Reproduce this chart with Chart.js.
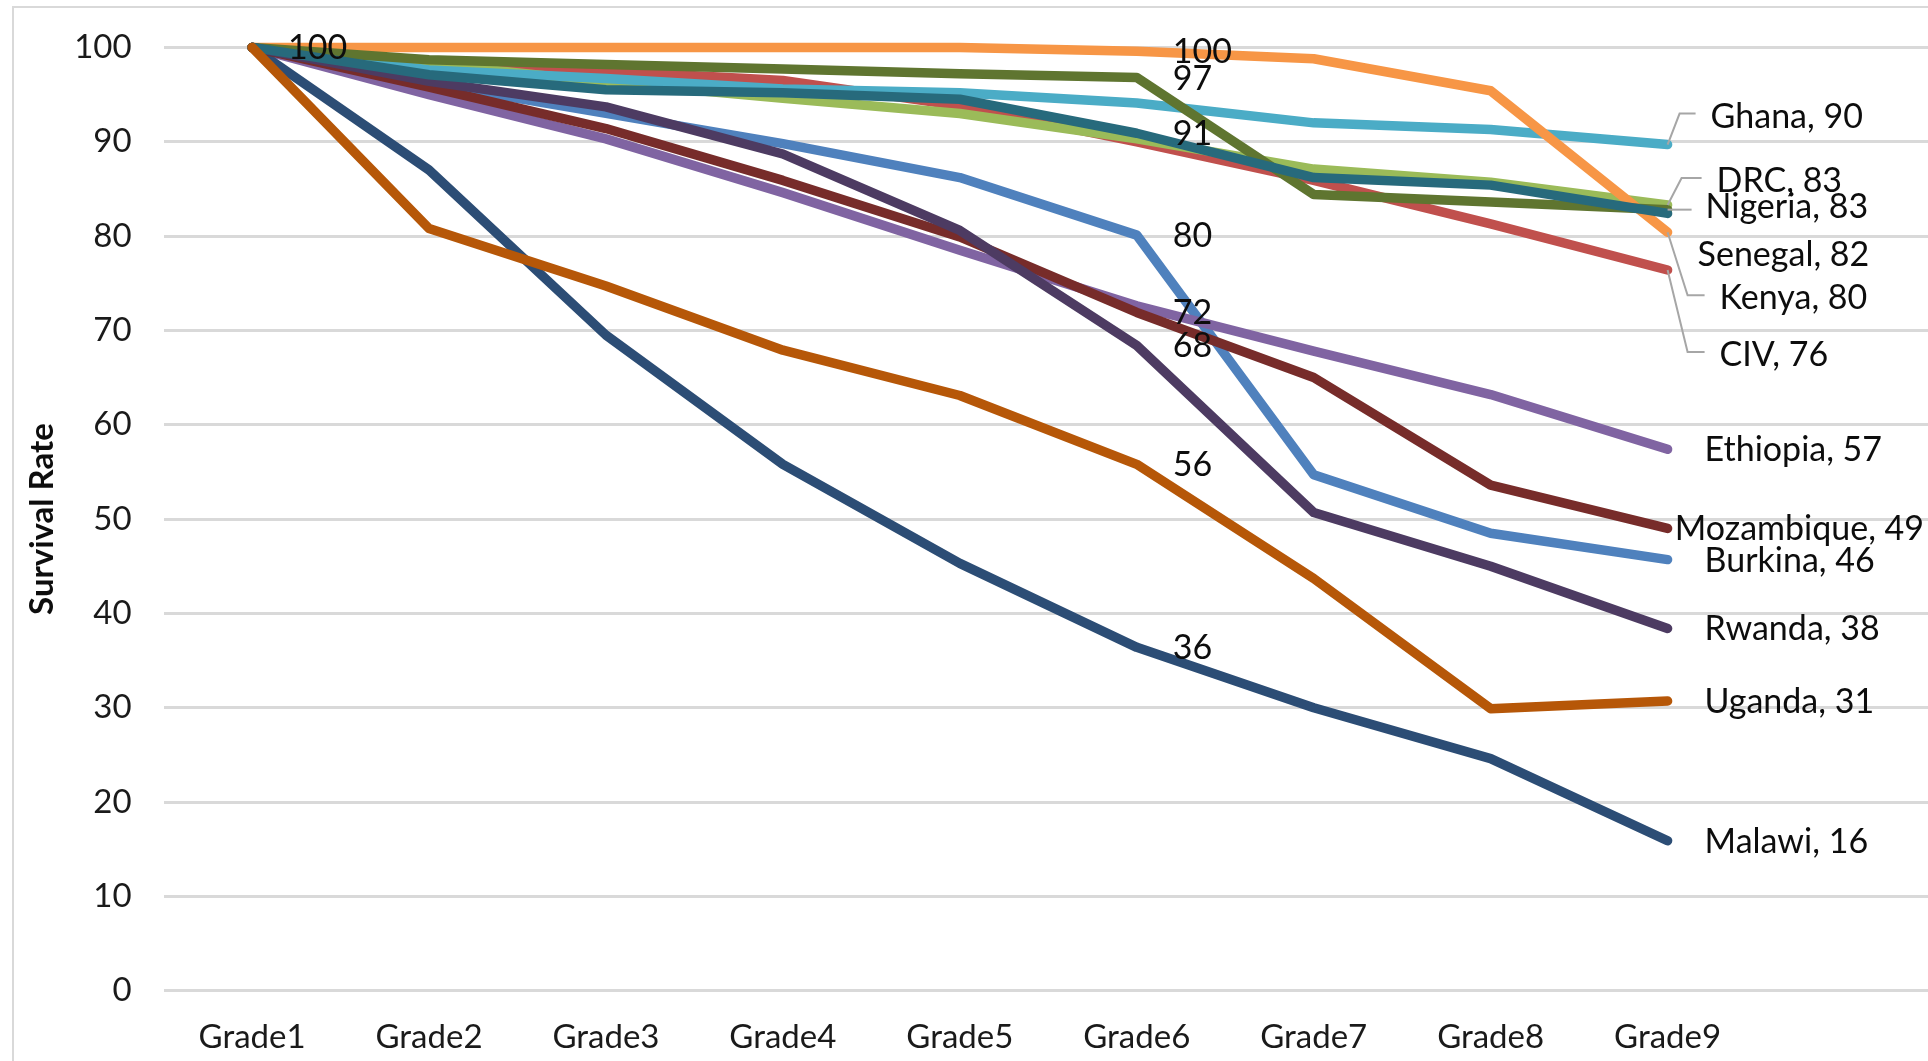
<!DOCTYPE html>
<html>
<head>
<meta charset="utf-8">
<title>Survival Rate by Grade</title>
<script src="https://cdn.jsdelivr.net/npm/chart.js@4.4.1/dist/chart.umd.min.js"></script>
<style>
  html, body { margin: 0; padding: 0; background: #ffffff; overflow: hidden; }
  #wrap { position: relative; width: 1928px; height: 1061px; overflow: hidden; }
</style>
</head>
<body>
<div id="wrap"><canvas id="chart" width="1933" height="1061"></canvas></div>
<script>
// Categories (the trailing blank slot leaves room for the end labels)
const grades = ['Grade1', 'Grade2', 'Grade3', 'Grade4', 'Grade5', 'Grade6', 'Grade7', 'Grade8', 'Grade9', ''];

// Series, in worksheet order
const countries = ['Burkina', 'CIV', 'DRC', 'Ethiopia', 'Ghana', 'Kenya', 'Malawi', 'Mozambique', 'Nigeria', 'Rwanda', 'Senegal', 'Uganda'];

// Survival rate (%) per grade
const burkina    = [100, 96.2, 93.0, 89.8, 86.2, 80.1, 54.7, 48.5, 45.7];
const civ        = [100, 98.2, 97.5, 96.5, 93.8, 90.0, 85.9, 81.3, 76.4];
const drc        = [100, 98.3, 96.3, 94.6, 93.0, 90.3, 87.1, 85.7, 83.3];
const ethiopia   = [100, 95.0, 90.3, 84.6, 78.5, 72.6, 67.8, 63.2, 57.4];
const ghana      = [100, 97.6, 96.7, 95.6, 95.2, 94.1, 92.0, 91.3, 89.7];
const kenya      = [100, 100, 100, 100, 100, 99.6, 98.8, 95.4, 80.4];
const malawi     = [100, 87.0, 69.5, 55.8, 45.3, 36.4, 30.0, 24.6, 15.9];
const mozambique = [100, 95.8, 91.4, 85.9, 79.9, 71.9, 65.0, 53.6, 49.0];
const nigeria    = [100, 98.7, 98.2, 97.7, 97.2, 96.8, 84.4, 83.6, 82.8];
const rwanda     = [100, 96.4, 93.7, 88.7, 80.6, 68.4, 50.7, 45.0, 38.4];
const senegal    = [100, 97.1, 95.5, 95.2, 94.5, 90.9, 86.2, 85.4, 82.4];
const uganda     = [100, 80.8, 74.7, 67.9, 63.1, 55.8, 43.7, 29.9, 30.7];

const seriesValues = [burkina, civ, drc, ethiopia, ghana, kenya, malawi, mozambique, nigeria, rwanda, senegal, uganda];

// Y axis ticks
const yTicks = [0, 10, 20, 30, 40, 50, 60, 70, 80, 90, 100];

// Office palette colours, one per series
const seriesColors = ['#4F81BD', '#C0504D', '#9BBB59', '#8064A2', '#4BACC6', '#F79646',
                      '#2C4D75', '#772C2A', '#5F7530', '#4D3B62', '#276A7C', '#B65708'];

// Where plain value labels are printed (series -> category indexes)
const valueLabelAt = {
  Kenya: [0, 5], Nigeria: [5], Senegal: [5], Burkina: [5],
  Mozambique: [5], Rwanda: [5], Uganda: [5], Malawi: [5]
};

// End-label placement tweaks (pixels) for the crowded top-right cluster
const endLabelShift = {
  Ghana:   { dx: 43, dy: -29, elbow: 12 },
  DRC:     { dx: 49, dy: -25, elbow: 14 },
  Nigeria: { dx: 38, dy: -4,  elbow: 24, flat: true },
  Senegal: { dx: 30, dy: 41 },
  Kenya:   { dx: 52, dy: 65,  elbow: 20 },
  CIV:     { dx: 52, dy: 84,  elbow: 20 }
};

const VISIBLE_WIDTH = 1928;
const FONT = 'Lato, "Open Sans", sans-serif';
const TICK_SIZE = 33;
const LABEL_SIZE = 34;

// Light frame around the chart area
const framePlugin = {
  id: 'frame',
  beforeDraw(chart) {
    const ctx = chart.ctx;
    ctx.save();
    ctx.fillStyle = '#ffffff';
    ctx.fillRect(0, 0, chart.width, chart.height);
    ctx.strokeStyle = '#D9D9D9';
    ctx.lineWidth = 2;
    ctx.beginPath();
    ctx.moveTo(13, chart.height + 5);
    ctx.lineTo(13, 7);
    ctx.lineTo(chart.width + 5, 7);
    ctx.stroke();
    ctx.restore();
  }
};

// Value labels and series-name end labels
const labelPlugin = {
  id: 'seriesLabels',
  afterDatasetsDraw(chart) {
    const ctx = chart.ctx;
    ctx.save();
    ctx.font = LABEL_SIZE + 'px ' + FONT;
    ctx.textBaseline = 'middle';
    ctx.textAlign = 'left';

    chart.data.datasets.forEach((ds, i) => {
      const meta = chart.getDatasetMeta(i);
      const name = ds.label;

      (valueLabelAt[name] || []).forEach(idx => {
        const pt = meta.data[idx];
        ctx.fillStyle = '#0d0d0d';
        ctx.fillText(String(Math.round(ds.data[idx])), pt.x + 36, pt.y + 1);
      });

      const last = ds.data.length - 1;
      const pt = meta.data[last];
      const text = name + ', ' + Math.round(ds.data[last]);
      const s = endLabelShift[name] || { dx: 37, dy: 0 };
      let lx = pt.x + s.dx;
      const ly = pt.y + s.dy;
      const w = ctx.measureText(text).width;
      if (lx + w > VISIBLE_WIDTH - 4) lx = VISIBLE_WIDTH - 4 - w;

      if (s.elbow) {
        ctx.strokeStyle = '#A6A6A6';
        ctx.lineWidth = 2;
        ctx.beginPath();
        ctx.moveTo(pt.x, pt.y);
        if (s.flat) {
          ctx.lineTo(pt.x + s.elbow, pt.y);
        } else {
          ctx.lineTo(pt.x + s.elbow, ly - 2);
          ctx.lineTo(lx - 15, ly - 2);
        }
        ctx.stroke();
      }
      ctx.fillStyle = '#0d0d0d';
      ctx.fillText(text, lx, ly + 1);
    });
    ctx.restore();
  }
};

const datasets = countries.map((name, i) => ({
  label: name,
  data: seriesValues[i],
  borderColor: seriesColors[i],
  backgroundColor: seriesColors[i],
  borderWidth: 9.5,
  borderCapStyle: 'round',
  borderJoinStyle: 'round',
  pointRadius: 0,
  pointHoverRadius: 0,
  tension: 0,
  fill: false,
  clip: false,
  order: countries.length - i
}));

new Chart(document.getElementById('chart'), {
  type: 'line',
  data: { labels: grades, datasets },
  options: {
    responsive: false,
    animation: false,
    devicePixelRatio: 1,
    events: [],
    layout: { padding: { top: 47.4, right: 0, bottom: 0, left: 0 } },
    plugins: {
      legend: { display: false },
      tooltip: { enabled: false }
    },
    scales: {
      x: {
        type: 'category',
        offset: true,
        grid: { display: false, drawTicks: false },
        border: { display: false },
        ticks: {
          color: '#1a1a1a',
          font: { family: FONT, size: TICK_SIZE },
          padding: 27,
          maxRotation: 0,
          autoSkip: false
        },
        afterFit(scale) { scale.height = 70.3; }
      },
      y: {
        min: 0,
        max: 100,
        afterBuildTicks(scale) { scale.ticks = yTicks.map(v => ({ value: v })); },
        grid: { color: '#D9D9D9', lineWidth: 3, drawTicks: false },
        border: { display: false },
        ticks: {
          color: '#1a1a1a',
          font: { family: FONT, size: TICK_SIZE },
          padding: 32
        },
        title: {
          display: true,
          text: 'Survival Rate',
          color: '#0d0d0d',
          font: { family: FONT, size: 33, weight: 'bold' },
          padding: { top: 23, bottom: 0 }
        },
        afterFit(scale) {
          scale.width = 163.6;
          scale.paddingTop = 0;
          scale.paddingBottom = 0;
        }
      }
    }
  },
  plugins: [framePlugin, labelPlugin]
});
</script>
</body>
</html>
